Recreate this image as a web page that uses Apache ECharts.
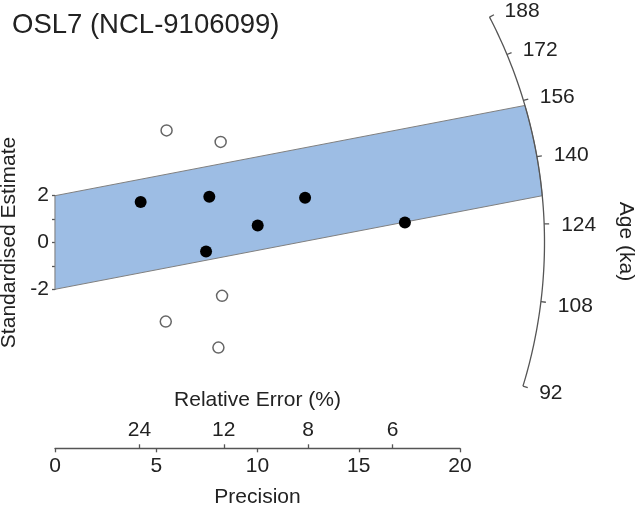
<!DOCTYPE html>
<html>
<head>
<meta charset="utf-8">
<script src="https://cdn.jsdelivr.net/npm/echarts@6/dist/echarts.min.js"></script>
<style>
  html, body { margin: 0; padding: 0; background: #fff; }
  #chart { width: 638px; height: 506px; }
</style>
</head>
<body>
<div id="chart"></div>
<script>
// ---- data ----
const titleText = 'OSL7 (NCL-9106099)';
// accepted (filled) points: precision (1/sigma) and standardised estimate
const inPrecision = [4.23, 7.62, 7.46, 10.01, 12.35, 17.28];
const inEstimate  = [1.73, 1.96, -0.38, 0.73, 1.91, 0.85];
// outlying (open) points
const outPrecision = [5.51, 8.18, 8.25, 5.47, 8.07];
const outEstimate  = [4.79, 4.30, -2.28, -3.38, -4.49];
// radial scale (age, ka)
const ageTicks = [92, 108, 124, 140, 156, 172, 188];
const referenceAge = 120;   // z0 of the radial plot
const centralAge = 141.7;   // centre of the 2-sigma band
const bandHalfWidth = 2;
// axes
const precisionTicks = [0, 5, 10, 15, 20];
const relErrorTicks = [24, 12, 8, 6];
const estimateTicks = [-2, 0, 2];

// ---- layout constants ----
const FONT = '"Liberation Sans", Arial, sans-serif';
const TXT = '#222';
const AX = '#555';
const ARC_R = 489.5;

function scales(api) {
  const o = api.coord([0, 0]);
  const a = api.coord([1, 0]);
  const b = api.coord([0, 1]);
  return { o, kx: a[0] - o[0], ky: o[1] - b[1] };
}
function ageAngle(age, kx, ky) {
  const m = Math.log(age / referenceAge);
  return Math.atan2(-m * ky, kx);
}

function renderBand(params, api) {
  const { o, kx, ky } = scales(api);
  const s = Math.log(centralAge / referenceAge);
  function hit(c) {
    const A = kx * kx + s * s * ky * ky;
    const B = 2 * s * c * ky * ky;
    const C = c * c * ky * ky - ARC_R * ARC_R;
    const x = (-B + Math.sqrt(B * B - 4 * A * C)) / (2 * A);
    return [o[0] + x * kx, o[1] - (s * x + c) * ky];
  }
  const lo = hit(-bandHalfWidth), up = hit(bandHalfWidth);
  const t1 = Math.atan2(lo[1] - o[1], lo[0] - o[0]);
  const t2 = Math.atan2(up[1] - o[1], up[0] - o[0]);
  const pts = [api.coord([0, -bandHalfWidth]), lo];
  const n = 40;
  for (let i = 1; i < n; i++) {
    const t = t1 + (t2 - t1) * i / n;
    pts.push([o[0] + ARC_R * Math.cos(t), o[1] + ARC_R * Math.sin(t)]);
  }
  pts.push(up, api.coord([0, bandHalfWidth]));
  return {
    type: 'polygon',
    shape: { points: pts },
    style: { fill: '#9dbde4', stroke: '#808080', lineWidth: 1 }
  };
}

function renderArc(params, api) {
  const { o, kx, ky } = scales(api);
  const tA = ageAngle(ageTicks[ageTicks.length - 1], kx, ky);
  const tB = ageAngle(ageTicks[0], kx, ky);
  const pts = [];
  const n = 80;
  for (let i = 0; i <= n; i++) {
    const t = tA + (tB - tA) * i / n;
    pts.push([o[0] + ARC_R * Math.cos(t), o[1] + ARC_R * Math.sin(t)]);
  }
  const children = [{
    type: 'polyline', shape: { points: pts },
    style: { stroke: AX, lineWidth: 1.3, fill: null }
  }];
  ageTicks.forEach(age => {
    const t = ageAngle(age, kx, ky);
    const c = Math.cos(t), sn = Math.sin(t);
    children.push({
      type: 'line',
      shape: { x1: o[0] + ARC_R * c, y1: o[1] + ARC_R * sn, x2: o[0] + (ARC_R + 5) * c, y2: o[1] + (ARC_R + 5) * sn },
      style: { stroke: AX, lineWidth: 1.3 }
    });
    children.push({
      type: 'text',
      style: {
        text: String(age), x: o[0] + (ARC_R + 17) * c, y: o[1] + (ARC_R + 17) * sn + 2,
        fill: TXT, fontSize: 21, fontFamily: FONT, align: 'left', verticalAlign: 'middle'
      }
    });
  });
  children.push({
    type: 'text', x: o[0] + ARC_R + 81, y: o[1] - 1, rotation: -Math.PI / 2,
    style: { text: 'Age (ka)', x: 0, y: 0, fill: TXT, fontSize: 21, fontFamily: FONT, align: 'center', verticalAlign: 'middle' }
  });
  return { type: 'group', children };
}

const chart = echarts.init(document.getElementById('chart'), null, { renderer: 'canvas' });
const gridTop = 195.7, gridBottomPx = 289.3, axisPx = 448.3;
const option = {
  animation: false,
  backgroundColor: '#fff',
  title: {
    text: titleText, left: 7, top: 6,
    textStyle: { fontSize: 27.5, fontWeight: 'normal', color: TXT, fontFamily: FONT }
  },
  grid: { left: 55, right: 638 - 460, top: gridTop, bottom: 506 - gridBottomPx,
    containLabel: false, outerBoundsMode: 'none' },
  xAxis: [{
    type: 'value', min: precisionTicks[0], max: precisionTicks[precisionTicks.length - 1], interval: 5,
    position: 'bottom', offset: axisPx - gridBottomPx,
    name: 'Precision', nameLocation: 'middle', nameGap: 38,
    nameTextStyle: { fontSize: 21, color: TXT, fontFamily: FONT },
    axisLine: { show: true, onZero: false, lineStyle: { color: AX, width: 1.3 } },
    axisTick: { show: true, length: 4, lineStyle: { color: AX, width: 1.3 } },
    axisLabel: { fontSize: 21, color: TXT, fontFamily: FONT, margin: 7 },
    splitLine: { show: false }
  }, {
    type: 'value', min: precisionTicks[0], max: precisionTicks[precisionTicks.length - 1],
    position: 'top', offset: -(axisPx - gridTop),
    name: 'Relative Error (%)', nameLocation: 'middle', nameGap: 38,
    nameTextStyle: { fontSize: 21, color: TXT, fontFamily: FONT },
    axisLine: { show: false, onZero: false },
    axisTick: { show: true, length: 4, lineStyle: { color: AX, width: 1.3 },
      customValues: relErrorTicks.map(r => 100 / r) },
    axisLabel: { fontSize: 21, color: TXT, fontFamily: FONT, margin: 8,
      customValues: relErrorTicks.map(r => 100 / r),
      formatter: v => String(Math.round(100 / v)) },
    splitLine: { show: false }
  }],
  yAxis: {
    type: 'value', min: estimateTicks[0], max: estimateTicks[estimateTicks.length - 1], interval: 1,
    name: 'Standardised Estimate', nameLocation: 'middle', nameGap: 27, nameRotate: 90,
    nameTextStyle: { fontSize: 21, color: TXT, fontFamily: FONT },
    axisLine: { show: true, onZero: false, lineStyle: { color: AX, width: 1.3 } },
    axisTick: { show: true, length: 3, lineStyle: { color: AX, width: 1.3 } },
    axisLabel: { fontSize: 21, color: TXT, fontFamily: FONT, margin: 6,
      formatter: v => (estimateTicks.indexOf(v) >= 0 ? String(v) : '') },
    splitLine: { show: false }
  },
  series: [{
    type: 'custom', renderItem: renderBand, data: [[0, 0]], clip: false, silent: true, z: 1
  }, {
    type: 'custom', renderItem: renderArc, data: [[0, 0]], clip: false, silent: true, z: 2
  }, {
    type: 'scatter', clip: false, z: 3,
    data: inPrecision.map((x, i) => [x, inEstimate[i]]),
    symbol: 'circle', symbolSize: 12,
    itemStyle: { color: '#000', opacity: 1 }
  }, {
    type: 'scatter', clip: false, z: 3,
    data: outPrecision.map((x, i) => [x, outEstimate[i]]),
    symbol: 'circle', symbolSize: 11,
    itemStyle: { color: '#fff', borderColor: '#666', borderWidth: 1.5, opacity: 1 }
  }]
};
chart.setOption(option);
</script>
</body>
</html>
